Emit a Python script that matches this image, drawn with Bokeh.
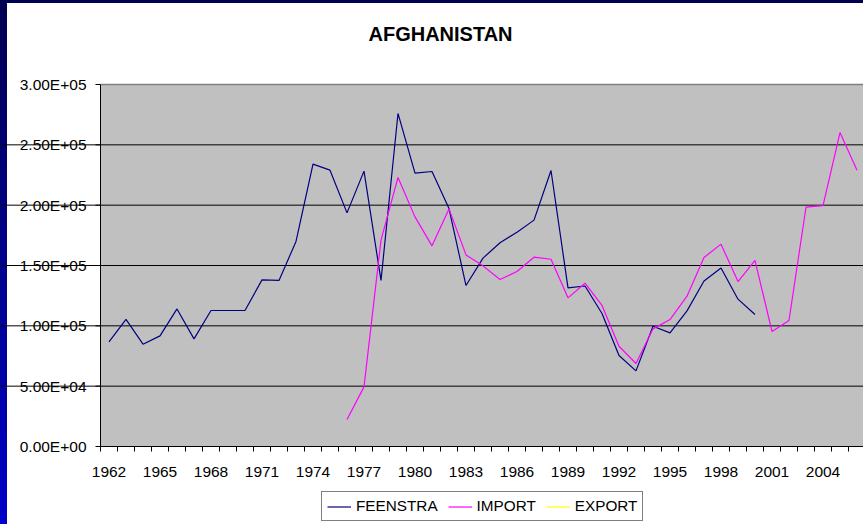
from bokeh.plotting import figure
from bokeh.models import Range1d, Span, Legend, LegendItem, BoxAnnotation, Label
from bokeh.core.properties import value
from bokeh.embed import file_html
from bokeh.resources import INLINE

years = [1962, 1963, 1964, 1965, 1966, 1967, 1968, 1969, 1970, 1971,
         1972, 1973, 1974, 1975, 1976, 1977, 1978, 1979, 1980, 1981,
         1982, 1983, 1984, 1985, 1986, 1987, 1988, 1989, 1990, 1991,
         1992, 1993, 1994, 1995, 1996, 1997, 1998, 1999, 2000, 2001,
         2002, 2003, 2004, 2005, 2006]

feenstra = [86700, 105300, 84800, 91700, 114000, 89200, 112700, 112700, 112700, 138100,
            137600, 169900, 234000, 229000, 193600, 228200, 137600, 276000, 226500, 227900,
            197200, 133400, 156100, 168800, 177600, 187600, 228700, 131500, 133000, 110200,
            75400, 62700, 99700, 94200, 112400, 137200, 148000, 122100, 109400, None,
            None, None, None, None, None]

imports = [None, None, None, None, None, None, None, None, None, None,
           None, None, None, None, 22400, 49400, 171000, 223000, 190300, 166300,
           196900, 158800, 149700, 138400, 145000, 156900, 155200, 123200, 135300, 116900,
           83100, 68800, 97500, 105200, 124600, 156600, 167700, 136700, 154200, 95300,
           104400, 198300, 199700, 260200, 229000]

exports = [float("nan")] * len(years)   # no EXPORT values in the chart (legend entry only)

y_ticks = [0, 50000, 100000, 150000, 200000, 250000, 300000]
y_tick_labels = ["0.00E+00", "5.00E+04", "1.00E+05", "1.50E+05", "2.00E+05", "2.50E+05", "3.00E+05"]
x_label_years = [1962, 1965, 1968, 1971, 1974, 1977, 1980, 1983, 1986, 1989, 1992, 1995, 1998, 2001, 2004]

FONT = "Liberation Sans"
TICK_FS = "15.5px"

# layout (pixels): the frame fills the whole canvas; the plot area is a sub-box of it
W, H = 863, 524
AREA_LEFT, AREA_TOP, AREA_BOTTOM = 100, 84, 446
Y_MIN, Y_MAX = y_ticks[0], y_ticks[-1]
PX_PER_Y = (AREA_BOTTOM - AREA_TOP) / (Y_MAX - Y_MIN)
PX_PER_X = 17.0
X_MIN = -0.5
y_lo = Y_MIN - (H - AREA_BOTTOM) / PX_PER_Y
y_hi = Y_MAX + AREA_TOP / PX_PER_Y
x_lo = X_MIN - AREA_LEFT / PX_PER_X
x_hi = X_MIN + (W - AREA_LEFT) / PX_PER_X

def dy(px):  # pixel distance -> data distance on y
    return px / PX_PER_Y

def dx(px):  # pixel distance -> data distance on x
    return px / PX_PER_X

p = figure(width=W, height=H, output_backend="svg", toolbar_location=None, title=None,
           x_range=Range1d(x_lo, x_hi), y_range=Range1d(y_lo, y_hi),
           min_border_left=0, min_border_right=0, min_border_top=0, min_border_bottom=0)

# slide-like dark blue strips at the left and top edges behind a transparent canvas
p.border_fill_alpha = 0
p.background_fill_alpha = 0
p.styles = {"background": "linear-gradient(#000050, #0000c8) left top / 7px 100% no-repeat, "
                          "linear-gradient(#000050, #000050) left top / 100% 3px no-repeat, white"}
p.outline_line_color = None
p.xgrid.visible = False
p.ygrid.visible = False
p.xaxis.visible = False
p.yaxis.visible = False

# plot area
p.add_layout(BoxAnnotation(left=X_MIN, bottom=Y_MIN, top=Y_MAX, fill_color="#C0C0C0", fill_alpha=1,
                           line_color=None, level="underlay"))
for t in y_ticks[1:-1]:
    p.add_layout(Span(location=t, dimension="width", line_color="black", line_width=1, level="underlay"))
p.segment(x0=[X_MIN], y0=[Y_MAX], x1=[x_hi], y1=[Y_MAX], line_color="#808080", line_width=1.5)

# title
p.add_layout(Label(x=X_MIN + dx(440 - AREA_LEFT), y=Y_MAX + dy(AREA_TOP - 33),
                   text="AFGHANISTAN", text_font=FONT, text_font_size="20px",
                   text_font_style="bold", text_color="black",
                   text_align="center", text_baseline="middle"))

# y axis
p.segment(x0=[X_MIN], y0=[Y_MIN], x1=[X_MIN], y1=[Y_MAX], line_color="black", line_width=1)
p.segment(x0=[X_MIN] * len(y_ticks), y0=y_ticks, x1=[X_MIN - dx(5)] * len(y_ticks), y1=y_ticks,
          line_color="black", line_width=1)
p.text(x=[X_MIN - dx(14)] * len(y_ticks), y=y_ticks, text=y_tick_labels,
       text_font=value(FONT), text_font_size=TICK_FS, text_color="black",
       text_align="right", text_baseline="middle")

# x axis (category axis: tick marks between categories, labels every third year)
idx = list(range(len(years)))
p.segment(x0=[X_MIN], y0=[Y_MIN], x1=[x_hi], y1=[Y_MIN], line_color="black", line_width=1)
bounds_x = [i - 0.5 for i in range(len(years) + 1)]
p.segment(x0=bounds_x, y0=[Y_MIN] * len(bounds_x), x1=bounds_x, y1=[Y_MIN - dy(5)] * len(bounds_x),
          line_color="black", line_width=1)
lab_x = [years.index(y) for y in x_label_years]
p.text(x=lab_x, y=[Y_MIN - dy(25)] * len(lab_x), text=[str(y) for y in x_label_years],
       text_font=value(FONT), text_font_size=TICK_FS, text_color="black",
       text_align="center", text_baseline="middle")

fx = [i for i, v in zip(idx, feenstra) if v is not None]
fy = [v for v in feenstra if v is not None]
ix = [i for i, v in zip(idx, imports) if v is not None]
iy = [v for v in imports if v is not None]

r1 = p.line(fx, fy, line_color="#000080", line_width=1.2)
r2 = p.line(ix, iy, line_color="#FF00FF", line_width=1.2)
r3 = p.line(idx, exports, line_color="#FFFF00", line_width=1.2)

lg = Legend(items=[LegendItem(label="FEENSTRA", renderers=[r1]),
                   LegendItem(label="IMPORT", renderers=[r2]),
                   LegendItem(label="EXPORT", renderers=[r3])])
lg.orientation = "horizontal"
lg.location = (321, 3)
lg.margin = 0
lg.padding = 5
lg.spacing = 10
lg.glyph_width = 24
lg.glyph_height = 17
lg.label_height = 17
lg.label_standoff = 5
lg.label_text_font = FONT
lg.label_text_font_size = "15.3px"
lg.label_text_color = "black"
lg.border_line_color = "black"
lg.border_line_width = 1
lg.background_fill_color = "white"
lg.background_fill_alpha = 1
lg.click_policy = "none"
p.add_layout(lg)

open("out.html", "w").write(file_html(p, INLINE))
